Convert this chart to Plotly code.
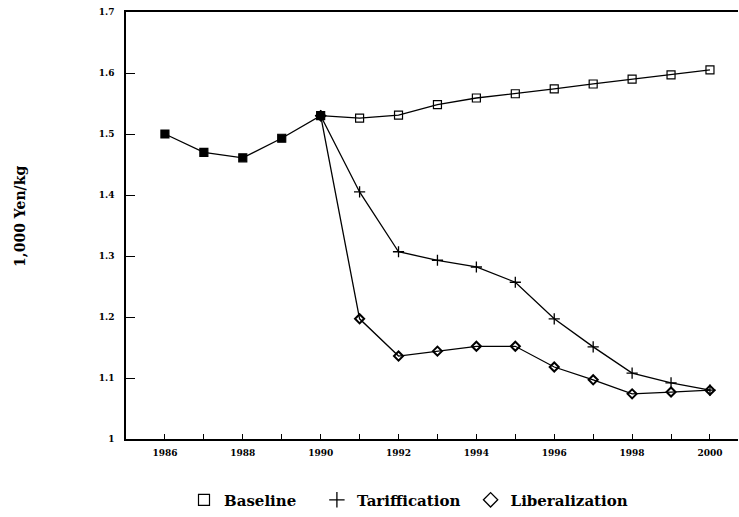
import plotly.graph_objects as go

years = list(range(1986, 2001))
baseline = [1.500, 1.470, 1.461, 1.493, 1.530, 1.526, 1.531, 1.548, 1.559,
            1.566, 1.574, 1.582, 1.590, 1.597, 1.605]
tariff_years = list(range(1990, 2001))
tariffication = [1.530, 1.405, 1.307, 1.293, 1.282, 1.257, 1.197, 1.151,
                 1.108, 1.092, 1.080]
liberalization = [1.530, 1.197, 1.136, 1.144, 1.152, 1.152, 1.118, 1.097,
                  1.074, 1.077, 1.080]

xtick_vals = list(range(1986, 2001))
xtick_text = [str(y) if y % 2 == 0 else "" for y in xtick_vals]
ytick_vals = [1.0, 1.1, 1.2, 1.3, 1.4, 1.5, 1.6, 1.7]
ytick_text = ["1", "1.1", "1.2", "1.3", "1.4", "1.5", "1.6", "1.7"]

legend_names = ["Baseline", "Tariffication", "Liberalization"]
legend_pad = ["\u00a0\u00a0\u00a0", "\u00a0", ""]

serif = "DejaVu Serif"
fig = go.Figure()

base_symbols = ["square" if y <= 1990 else "square-open" for y in years]

fig.add_trace(go.Scatter(
    x=tariff_years, y=liberalization, mode="lines+markers",
    line=dict(color="black", width=1.3),
    marker=dict(symbol="diamond-open", size=7, color="black",
                line=dict(color="black", width=2)),
    showlegend=False))
fig.add_trace(go.Scatter(
    x=tariff_years, y=tariffication, mode="lines+markers",
    line=dict(color="black", width=1.3),
    marker=dict(symbol="cross-thin", size=8, color="black",
                line=dict(color="black", width=1.3)),
    showlegend=False))
fig.add_trace(go.Scatter(
    x=years, y=baseline, mode="lines+markers",
    line=dict(color="black", width=1.3),
    marker=dict(symbol=base_symbols, size=8, color="black",
                line=dict(color="black", width=1.2)),
    showlegend=False))

# legend entries (symbols only)
for name, pad, sym, w in zip(legend_names, legend_pad,
                             ["square-open", "cross-thin", "diamond-open"],
                             [1.2, 1.3, 1.3]):
    fig.add_trace(go.Scatter(
        x=[None], y=[None], mode="markers", name=name + pad,
        marker=dict(symbol=sym, size=11, color="black",
                    line=dict(color="black", width=w))))

fig.update_layout(
    width=739, height=517, autosize=False,
    margin=dict(l=126, r=1, t=12, b=78, autoexpand=False),
    paper_bgcolor="white", plot_bgcolor="white",
    font=dict(family=serif, color="black"),
    showlegend=True,
    legend=dict(orientation="h", x=(184 - 126) / 612, xanchor="left", y=-0.143,
                yanchor="middle", font=dict(family=serif, size=15, weight="bold"),
                itemwidth=30, tracegroupgap=0, bgcolor="rgba(0,0,0,0)"),
    xaxis=dict(range=[1985.0, 2000.72], tickvals=xtick_vals, ticktext=xtick_text,
               ticks="inside", ticklen=5, tickwidth=1, tickcolor="black",
               showline=True, linecolor="black", linewidth=1.5, mirror=True,
               showgrid=False, zeroline=False, ticklabelstandoff=4,
               tickfont=dict(family=serif, size=9, weight="bold")),
    yaxis=dict(range=[1.0, 1.7], tickvals=ytick_vals, ticktext=ytick_text,
               ticks="inside", ticklen=9, tickwidth=1, tickcolor="black",
               showline=True, linecolor="black", linewidth=1.5,
               showgrid=False, zeroline=False, ticklabelstandoff=8,
               tickfont=dict(family=serif, size=9, weight="bold")),
    annotations=[dict(text="1,000 Yen/kg", textangle=-90, xref="paper", yref="paper",
                      x=(20 - 126) / 612, y=0.52, xanchor="center", yanchor="middle",
                      showarrow=False,
                      font=dict(family=serif, size=14, weight="bold"))],
)

fig.write_html("out.html", config={"responsive": False, "displayModeBar": False},
               post_script="document.body.style.margin='0';"
                           "document.body.style.padding='0';"
                           "document.body.style.overflow='hidden';")
